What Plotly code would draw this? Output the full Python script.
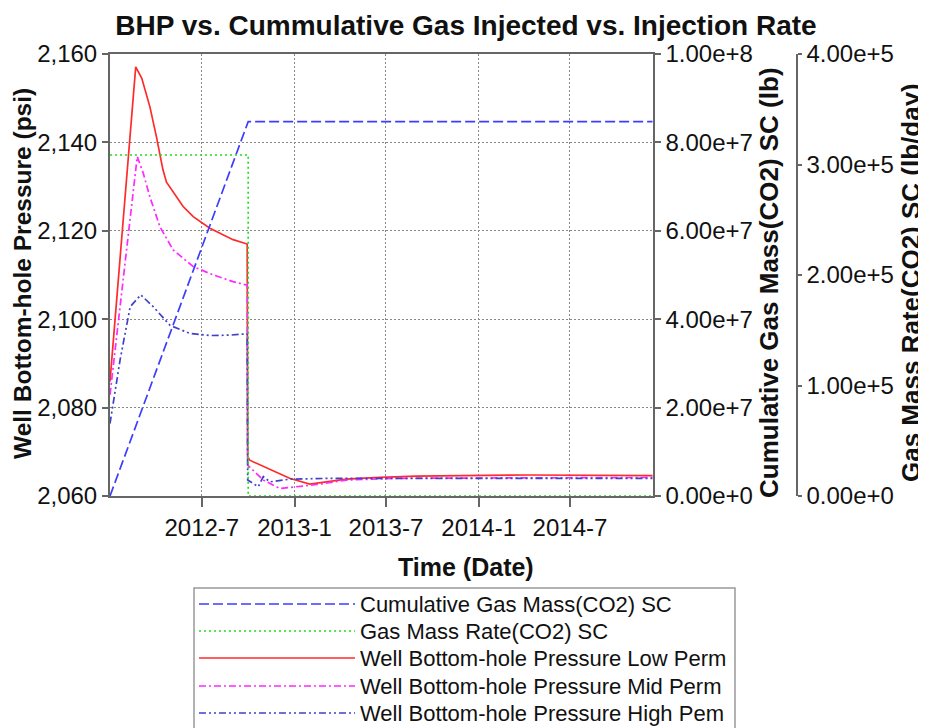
import plotly.graph_objects as go

# ---------------- data ----------------
low_dates = ["2012-01-01", "2012-02-21", "2012-03-04", "2012-03-20", "2012-04-02", "2012-04-15",
             "2012-04-22", "2012-05-12", "2012-05-25", "2012-06-14", "2012-06-27", "2012-07-17",
             "2012-07-31", "2012-08-19", "2012-09-01", "2012-09-29", "2012-09-30",
             "2012-10-04", "2012-12-22", "2013-01-31", "2013-04-14", "2013-06-19", "2013-08-30",
             "2014-04-12", "2014-12-12"]
low_bhp = [2085.9, 2157.1, 2154.5, 2148.1, 2141.3, 2133.8,
           2131.0, 2127.7, 2125.5, 2123.2, 2122.2, 2120.6,
           2119.8, 2118.7, 2118.0, 2117.0, 2068.9,
           2068.1, 2064.0, 2062.7, 2063.8, 2064.2, 2064.5,
           2064.75, 2064.6]

mid_dates = ["2012-01-01", "2012-02-24", "2012-03-07", "2012-03-20", "2012-04-09", "2012-05-05",
             "2012-06-14", "2012-07-24", "2012-09-01", "2012-09-29", "2012-09-30", "2012-10-31",
             "2012-12-03", "2013-02-07", "2013-04-14", "2013-07-22", "2014-12-12"]
mid_bhp = [2082.9, 2136.8, 2133.0, 2127.7, 2120.9, 2115.7, 2111.9, 2110.0, 2108.5, 2107.7,
           2067.0, 2063.6, 2061.7, 2062.5, 2063.6, 2064.0, 2064.2]

high_dates = ["2012-01-01", "2012-01-21", "2012-02-10", "2012-03-02", "2012-03-27", "2012-04-29",
              "2012-06-07", "2012-07-17", "2012-08-26", "2012-09-29", "2012-09-30", "2012-10-21",
              "2012-10-31", "2012-11-13", "2012-12-22", "2013-03-12", "2014-12-12"]
high_bhp = [2076.4, 2090.8, 2102.8, 2105.5, 2102.8, 2098.6, 2096.8, 2096.3, 2096.4, 2096.7,
            2063.6, 2062.1, 2064.4, 2063.2, 2063.8, 2064.0, 2064.0]

cum_dates = ["2012-01-01", "2012-10-01", "2014-12-12"]
cum_mass = [0.0, 8.47e7, 8.47e7]

rate_dates = ["2012-01-01", "2012-10-01", "2014-12-12"]
rate_mass = [3.086e5, 0.0, 0.0]

x_tick_vals = ["2012-07-01", "2013-01-01", "2013-07-01", "2014-01-01", "2014-07-01"]
x_tick_text = ["2012-7", "2013-1", "2013-7", "2014-1", "2014-7"]
x_range = ["2012-01-01", "2014-12-12"]

series_names = ["Cumulative Gas Mass(CO2) SC", "Gas Mass Rate(CO2) SC",
                "Well Bottom-hole Pressure Low Perm", "Well Bottom-hole Pressure Mid Perm",
                "Well Bottom-hole Pressure High Pem"]

# ---------------- styling ----------------
W, H = 926, 728
OFF = 8  # page body margin offset
FONT = "Liberation Sans, Arial, sans-serif"
C_CUM = "#3d3dff"
C_RATE = "#22dd22"
C_LOW = "#ff2a2a"
C_MID = "#ff2aff"
C_HIGH = "#4040cc"
D_CUM = "10px,4px"
D_RATE = "2px,3px"
D_MID = "7px,3px,2px,3px"
D_HIGH = "7px,3px,2px,3px,2px,3px"
AX = "#666666"
LW = 1.7


def px(x):
    return (x - OFF) / W


def py(y):
    return (H - (y - OFF)) / H


fig = go.Figure()
fig.add_trace(go.Scatter(x=cum_dates, y=cum_mass, yaxis="y2", mode="lines", name=series_names[0],
                         line=dict(color=C_CUM, width=LW, dash=D_CUM)))
fig.add_trace(go.Scatter(x=rate_dates, y=rate_mass, yaxis="y3", mode="lines", name=series_names[1],
                         line=dict(color=C_RATE, width=LW, dash=D_RATE, shape="hv")))
fig.add_trace(go.Scatter(x=low_dates, y=low_bhp, mode="lines", name=series_names[2],
                         line=dict(color=C_LOW, width=LW)))
fig.add_trace(go.Scatter(x=mid_dates, y=mid_bhp, mode="lines", name=series_names[3],
                         line=dict(color=C_MID, width=LW, dash=D_MID)))
fig.add_trace(go.Scatter(x=high_dates, y=high_bhp, mode="lines", name=series_names[4],
                         line=dict(color=C_HIGH, width=LW, dash=D_HIGH)))

tick_font = dict(family=FONT, size=24, color="#111")

fig.update_layout(
    width=W, height=H,
    margin=dict(l=0, r=0, t=0, b=0, autoexpand=False),
    paper_bgcolor="white", plot_bgcolor="white",
    showlegend=False,
    title=dict(text="<b>BHP vs. Cummulative Gas Injected vs. Injection Rate</b>",
               x=px(466), xanchor="center", y=py(25), yanchor="middle", automargin=False,
               font=dict(family=FONT, size=28, color="#111")),
    xaxis=dict(domain=[px(110), px(652.7)], type="date", range=x_range, automargin=False,
               tickvals=x_tick_vals, ticktext=x_tick_text, tickfont=tick_font,
               showgrid=True, gridcolor="#888", griddash="2px,2px", gridwidth=1,
               showline=True, linecolor=AX, linewidth=2, mirror=True,
               ticks="outside", ticklen=9, tickwidth=2, tickcolor=AX, zeroline=False),
    yaxis=dict(domain=[py(496), py(54)], range=[2060, 2160], dtick=20, tickformat=",d",
               tickfont=tick_font, automargin=False,
               showgrid=True, gridcolor="#888", griddash="2px,2px", gridwidth=1,
               showline=True, linecolor=AX, linewidth=2,
               ticks="outside", ticklen=6, tickwidth=2, tickcolor=AX, zeroline=False),
    yaxis2=dict(overlaying="y", side="right", anchor="x", range=[0, 1e8], dtick=2e7,
                tickformat=".2e", tickfont=tick_font, showgrid=False, automargin=False,
                showline=True, linecolor=AX, linewidth=2,
                ticks="outside", ticklen=6, tickwidth=2, tickcolor=AX, zeroline=False),
    yaxis3=dict(overlaying="y", side="right", anchor="free", position=px(796.7),
                range=[0, 4e5], dtick=1e5, automargin=False,
                tickformat=".2e", tickfont=tick_font, showgrid=False,
                showline=True, linecolor=AX, linewidth=2,
                ticks="outside", ticklen=4, tickwidth=2, tickcolor=AX, zeroline=False),
)

# axis titles
annots = [
    dict(text="<b>Time (Date)</b>", x=px(466), y=py(567), textangle=0, size=25),
    dict(text="<b>Well Bottom-hole Pressure (psi)</b>", x=px(22), y=py(274), textangle=-90, size=24.5),
    dict(text="<b>Cumulative Gas Mass(CO2) SC (lb)</b>", x=px(769), y=py(283), textangle=-90, size=26),
    dict(text="<b>Gas Mass Rate(CO2) SC (lb/day)</b>", x=px(911), y=py(283), textangle=-90, size=26),
]
for a in annots:
    sz = a.pop("size")
    fig.add_annotation(xref="paper", yref="paper", showarrow=False, xanchor="center",
                       yanchor="middle", font=dict(family=FONT, size=sz, color="#111"), **a)

# legend drawn as a box with line samples
fig.add_shape(type="rect", xref="paper", yref="paper", x0=px(194), x1=px(735),
              y0=py(760), y1=py(588), line=dict(color="#999", width=1.5), fillcolor="white",
              layer="above")
leg_rows = [604, 631, 658, 686, 713]
leg_styles = [(C_CUM, D_CUM), (C_RATE, D_RATE), (C_LOW, "solid"), (C_MID, D_MID), (C_HIGH, D_HIGH)]
for name, yy, (col, dsh) in zip(series_names, leg_rows, leg_styles):
    fig.add_shape(type="line", xref="paper", yref="paper", x0=px(199), x1=px(355),
                  y0=py(yy), y1=py(yy), line=dict(color=col, width=LW, dash=dsh), layer="above")
    fig.add_annotation(xref="paper", yref="paper", x=px(358), y=py(yy), text=name,
                       showarrow=False, xanchor="left", yanchor="middle",
                       font=dict(family=FONT, size=22, color="#111"))

fig.write_html("out.html")
